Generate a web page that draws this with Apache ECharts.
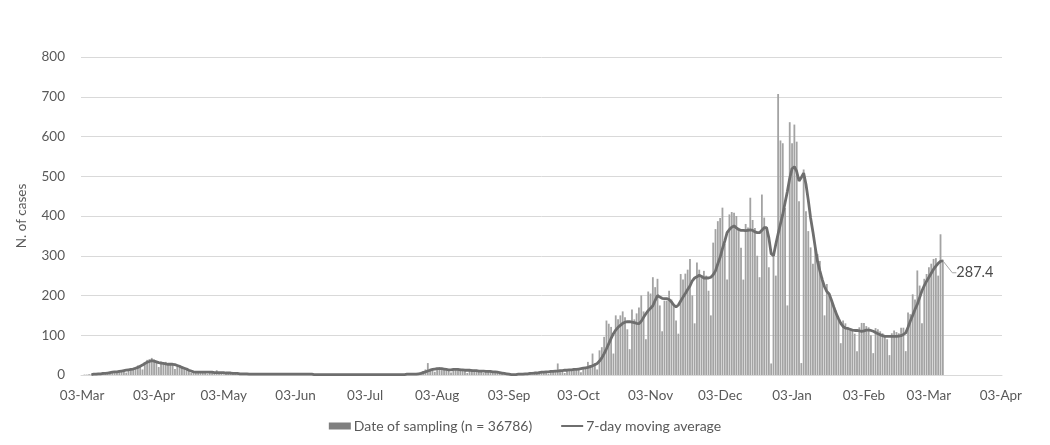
<!DOCTYPE html>
<html><head><meta charset="utf-8">
<script src="https://cdn.jsdelivr.net/npm/echarts@6.0.0/dist/echarts.min.js"></script>
<style>html,body{margin:0;padding:0;background:#fff}#c{width:1050px;height:445px}</style>
</head><body><div id="c"></div><script>
// Axis range (category = one day)
const startDate = '2020-03-03';
const endDate = '2021-04-03';
const monthNames = ['Jan','Feb','Mar','Apr','May','Jun','Jul','Aug','Sep','Oct','Nov','Dec'];
const yMin = 0, yMax = 800, yInterval = 100;

// Daily cases by date of sampling, one value per day from 03-Mar-2020
const dailyCases = [
  0, 1, 1, 2, 2, 1, 3,
  4, 5, 6, 6, 5, 3, 8,
  9, 10, 11, 12, 10, 6, 13,
  16, 18, 20, 24, 22, 14, 30,
  38, 40, 43, 39, 33, 20, 34,
  31, 33, 30, 29, 26, 15, 24,
  22, 20, 17, 15, 12, 6, 10,
  9, 8, 8, 7, 6, 3, 7,
  8, 7, 12, 6, 5, 2, 5,
  5, 5, 4, 4, 3, 1, 3,
  3, 3, 2, 3, 2, 1, 2,
  2, 3, 2, 2, 1, 0, 2,
  3, 2, 2, 1, 2, 0, 2,
  2, 2, 3, 2, 1, 1, 2,
  2, 1, 2, 2, 1, 0, 1,
  1, 2, 1, 2, 1, 0, 1,
  2, 1, 1, 2, 1, 0, 2,
  1, 2, 2, 1, 1, 0, 1,
  2, 1, 2, 1, 1, 0, 2,
  2, 2, 1, 2, 1, 1, 2,
  2, 3, 2, 3, 4, 2, 6,
  10, 14, 30, 16, 15, 8, 18,
  20, 18, 17, 15, 12, 6, 14,
  16, 15, 16, 14, 12, 5, 13,
  14, 13, 12, 12, 10, 5, 11,
  12, 11, 10, 9, 7, 3, 6,
  4, 3, 2, 1, 1, 0, 2,
  3, 3, 4, 4, 3, 1, 5,
  7, 8, 8, 9, 7, 3, 9,
  10, 12, 29, 11, 10, 5, 12,
  14, 15, 16, 15, 13, 7, 17,
  20, 33, 25, 54, 30, 14, 62,
  70, 96, 137, 129, 121, 54, 150,
  140, 150, 160, 145, 115, 65, 165,
  140, 155, 170, 200, 160, 90, 210,
  205, 246, 221, 242, 175, 110, 187,
  187, 212, 190, 175, 137, 104, 254,
  240, 255, 265, 292, 200, 130, 283,
  265, 250, 262, 250, 212, 150, 333,
  367, 387, 395, 421, 330, 240, 404,
  410, 408, 400, 370, 320, 240, 380,
  371, 446, 390, 370, 300, 246, 454,
  396, 371, 271, 29, 300, 250, 707,
  590, 583, 420, 175, 636, 583, 630,
  587, 437, 30, 517, 412, 362, 321,
  280, 321, 304, 287, 246, 150, 229,
  200, 187, 171, 162, 140, 80, 137,
  130, 121, 117, 115, 104, 60, 120,
  131, 131, 123, 120, 100, 55, 118,
  115, 110, 105, 100, 90, 50, 105,
  112, 108, 105, 119, 119, 60, 157,
  153, 203, 190, 263, 225, 130, 242,
  254, 271, 280, 292, 294, 250, 354,
  290
];

// 7-day moving average
const movingAverage = [
  null, null, null, null, 1, 2, 2,
  3, 3, 4, 4, 5, 6, 7,
  8, 8, 9, 10, 11, 12, 13,
  14, 15, 17, 19, 22, 25, 29,
  32, 34, 36, 35, 33, 31, 30,
  29, 28, 27, 27, 27, 26, 24,
  22, 19, 17, 15, 12, 10, 8,
  7, 7, 7, 7, 7, 7, 7,
  7, 6, 6, 6, 6, 6, 5,
  5, 5, 4, 4, 4, 3, 3,
  3, 3, 2, 2, 2, 2, 2,
  2, 2, 2, 2, 2, 2, 2,
  2, 2, 2, 2, 2, 2, 2,
  2, 2, 2, 2, 2, 2, 2,
  2, 2, 1, 1, 1, 1, 1,
  1, 1, 1, 1, 1, 1, 1,
  1, 1, 1, 1, 1, 1, 1,
  1, 1, 1, 1, 1, 1, 1,
  1, 1, 1, 1, 1, 1, 1,
  1, 1, 1, 1, 1, 1, 1,
  2, 2, 2, 2, 2, 3, 4,
  6, 8, 10, 12, 14, 15, 16,
  16, 16, 15, 14, 13, 13, 14,
  14, 14, 13, 13, 12, 12, 12,
  11, 11, 11, 10, 10, 10, 9,
  9, 9, 8, 8, 7, 6, 5,
  4, 3, 2, 1, 1, 1, 2,
  2, 2, 3, 3, 4, 4, 5,
  5, 6, 7, 7, 8, 8, 9,
  9, 10, 10, 11, 11, 12, 12,
  13, 13, 14, 14, 15, 16, 17,
  18, 19, 21, 23, 26, 29, 35,
  43, 54, 66, 79, 92, 104, 113,
  120, 125, 130, 133, 134, 134, 133,
  132, 130, 129, 135, 145, 154, 162,
  168, 174, 188, 200, 196, 193, 192,
  192, 190, 184, 176, 171, 176, 186,
  196, 205, 215, 224, 237, 244, 247,
  251, 248, 244, 244, 244, 246, 252,
  262, 280, 296, 318, 337, 358, 366,
  372, 375, 370, 366, 364, 364, 363,
  364, 365, 364, 360, 358, 358, 364,
  371, 371, 345, 305, 300, 329, 355,
  380, 404, 434, 462, 495, 519, 524,
  512, 488, 497, 508, 480, 440, 395,
  360, 321, 285, 262, 240, 222, 210,
  204, 188, 171, 155, 142, 130, 122,
  118, 117, 115, 113, 112, 112, 111,
  110, 111, 113, 113, 112, 110, 107,
  104, 101, 99, 97, 97, 97, 97,
  97, 97, 98, 99, 102, 106, 120,
  136, 150, 165, 178, 195, 212, 225,
  236, 246, 256, 266, 274, 281, 286,
  287.4
];

// build the daily category list
const categories = [];
(function(){
  const d = new Date(startDate + 'T00:00:00Z');
  const e = new Date(endDate + 'T00:00:00Z');
  while (d <= e) { categories.push(d.toISOString().slice(0,10)); d.setUTCDate(d.getUTCDate()+1); }
})();
const isTickDay = (i, v) => v.slice(8) === '03';
const fmtDate = v => v.slice(8) + '-' + monthNames[parseInt(v.slice(5,7),10)-1];

const font = 'Lato, "Liberation Sans", sans-serif';
const lastIdx = movingAverage.length - 1;

const chart = echarts.init(document.getElementById('c'), null, { renderer: 'canvas' });
chart.setOption({
  animation: false,
  backgroundColor: '#ffffff',
  textStyle: { fontFamily: font },
  grid: { left: 81, right: 48, top: 57, bottom: 70, containLabel: false, outerBoundsMode: 'none' },
  legend: {
    left: 'center', top: 414, itemGap: 28, itemWidth: 22, itemHeight: 7,
    textStyle: { color: '#595959', fontSize: 14, fontFamily: font, padding: [0, 0, 0, -2] },
    data: [
      { name: 'Date of sampling (n = 36786)', icon: 'rect', itemStyle: { color: '#7f7f7f' } },
      { name: '7-day moving average', itemStyle: { opacity: 0 } }
    ]
  },
  xAxis: {
    type: 'category', data: categories, boundaryGap: true,
    axisLine: { lineStyle: { color: '#d9d9d9', width: 1 } },
    axisTick: { alignWithLabel: true, interval: isTickDay, length: 5, lineStyle: { color: '#d9d9d9' } },
    axisLabel: { interval: isTickDay, formatter: fmtDate, color: '#595959', fontSize: 13.5, margin: 14, fontFamily: font },
    splitLine: { show: false }
  },
  yAxis: {
    type: 'value', min: yMin, max: yMax, interval: yInterval,
    name: 'N. of cases', nameLocation: 'middle', nameGap: 52, nameRotate: 90,
    nameTextStyle: { color: '#595959', fontSize: 13.5, fontFamily: font },
    axisLine: { show: false }, axisTick: { show: false },
    axisLabel: { color: '#595959', fontSize: 13.5, margin: 16, fontFamily: font },
    splitLine: { lineStyle: { color: '#d9d9d9', width: 1 } }
  },
  series: [
    {
      name: 'Date of sampling (n = 36786)', type: 'bar', data: dailyCases,
      barCategoryGap: '22%', itemStyle: { color: '#a3a3a3' }, z: 2
    },
    {
      name: '7-day moving average', type: 'line', data: movingAverage,
      symbol: 'none', showSymbol: false, smooth: false, connectNulls: false,
      lineStyle: { color: '#6e6e6e', width: 2.8 }, itemStyle: { color: '#6e6e6e' },
      z: 3
    },
    {
      name: 'last value label', type: 'scatter',
      data: [[lastIdx, movingAverage[lastIdx]]],
      symbol: 'circle', symbolSize: 1, itemStyle: { color: '#6e6e6e' },
      label: { show: true, position: 'right', distance: 2, formatter: p => p.value[1].toFixed(1),
               color: '#4a4a4a', opacity: 1, textBorderWidth: 0, fontSize: 14.5, fontFamily: font },
      labelLayout: { dx: 11, dy: 12 },
      labelLine: { show: true, length2: 4, lineStyle: { color: '#a6a6a6', width: 1 } },
      z: 4, silent: true
    }
  ]
});
</script></body></html>
